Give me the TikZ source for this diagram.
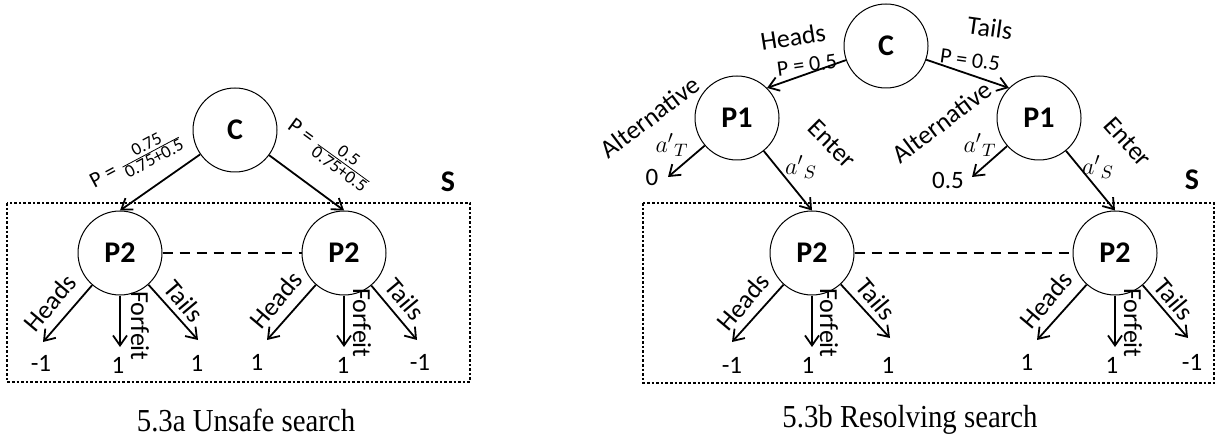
\documentclass[tikz,border=0pt]{standalone}
\usepackage{fontspec}
\setmainfont{Carlito}
\newfontfamily\capfont{Liberation Serif}
\usetikzlibrary{arrows.meta, positioning}

\newcommand{\pfrac}[2]{$\frac{\mbox{\fontsize{9}{10}\selectfont #1}}{\mbox{\fontsize{9}{10}\selectfont #2}}$}

\begin{document}
\begin{tikzpicture}[x=0.5pt, y=-0.5pt,
  player/.style={draw, circle, line width=0.5pt, minimum size=42pt, inner sep=0pt,
                 font=\fontsize{15}{17}\selectfont\bfseries},
  arr/.style={-{Straight Barb[length=5pt, width=7pt]}, line width=0.9pt},
  lbl/.style={font=\fontsize{13}{15}\selectfont, inner sep=0pt},
  biglbl/.style={font=\fontsize{13}{15}\selectfont, inner sep=0pt},
  prob/.style={font=\fontsize{11}{13}\selectfont, inner sep=0pt},
  val/.style={font=\fontsize{12.5}{14}\selectfont, inner sep=0pt},
  infoset/.style={dash pattern=on 5pt off 3.5pt, line width=0.75pt},
  subgame/.style={draw, line width=1.3pt, dash pattern=on 1.3pt off 1pt},
  caption/.style={font=\capfont\fontsize{16}{19}\selectfont, xscale=0.9}
]
\useasboundingbox (0,0) rectangle (1225,438);

% ---- 5.3a unsafe search
\draw[subgame] (7,203) rectangle (470,382);
\node[player] (chanceA) at (235,130) {C};
\node[player] (pA) at (120,253) {P2};
\node[player] (pB) at (344,253) {P2};
\node[font=\fontsize{15}{17}\selectfont\bfseries] (sA) at (448,182) {S};

\draw[arr] (chanceA) -- (pA.north);
\draw[arr] (chanceA) -- (pB.north);
\node[prob, rotate=28] (probA) at (136,159) {P = \pfrac{0.75}{0.75+0.5}};
\node[prob, rotate=-36] (probB) at (331,153) {P = \pfrac{0.5}{0.75+0.5}};
\draw[infoset] (pA) -- (pB);

\coordinate (aH) at (43,342);
\coordinate (aF) at (120,347);
\coordinate (aT) at (198,340);
\coordinate (bH) at (267,340);
\coordinate (bF) at (344,347);
\coordinate (bT) at (417,340);
\foreach \p/\q in {pA/a, pB/b}
  \foreach \e in {H, F, T}
    \draw[arr] (\p) -- (\q\e);

\node[lbl, rotate=50] (hdA) at (50,303) {Heads};
\node[lbl, rotate=-90] (ffA) at (140,326) {Forfeit};
\node[lbl, rotate=-50] (tlA) at (184,301) {Tails};
\node[lbl, rotate=50] (hdB) at (276,300) {Heads};
\node[lbl, rotate=-90] (ffB) at (362,323) {Forfeit};
\node[lbl, rotate=-50] (tlB) at (405,299) {Tails};

\node[val] (vA1) at (41,363) {-1};
\node[val] (vA2) at (118,365) {1};
\node[val] (vA3) at (197,363) {1};
\node[val] (vB1) at (257,362) {1};
\node[val] (vB2) at (343,365) {1};
\node[val] (vB3) at (420,362) {-1};

\node[caption] (capA) at (246,420) {5.3a Unsafe search};

% ---- 5.3b resolving search
\draw[subgame] (643,203) rectangle (1214,383);
\node[player] (chanceB) at (886,46) {C};
\node[player] (qA) at (737,118) {P1};
\node[player] (qB) at (1039,118) {P1};
\node[player] (pC) at (812,253) {P2};
\node[player] (pD) at (1115,253) {P2};
\node[font=\fontsize{15}{17}\selectfont\bfseries] (sB) at (1192,180) {S};

\draw[arr] (chanceB) -- (qA.north east);
\draw[arr] (chanceB) -- (qB.north west);
\node[biglbl, rotate=9] (hdTop) at (793,37) {Heads};
\node[prob, rotate=8] (prTopA) at (807,65) {P = 0.5};
\node[biglbl, rotate=-8] (tlTop) at (990,28) {Tails};
\node[prob, rotate=-8] (prTopB) at (970,60) {P = 0.5};

\coordinate (altA) at (668,177);
\coordinate (altB) at (972,177);
\draw[arr] (qA) -- (altA);
\draw[arr] (qB) -- (altB);
\draw[arr] (qA) -- (pC.north);
\draw[arr] (qB) -- (pD.north);
\node[biglbl, rotate=37] (alA) at (650,117) {Alternative};
\node[biglbl, rotate=37] (alB) at (942,122) {Alternative};
\node[biglbl] (atA) at (672,145) {$a'{}_T$};
\node[biglbl] (atB) at (980,145) {$a'{}_T$};
\node[biglbl, rotate=-45] (enA) at (832,144) {Enter};
\node[biglbl, rotate=-48] (enB) at (1128,142) {Enter};
\node[biglbl] (asA) at (801,167) {$a'{}_S$};
\node[biglbl] (asB) at (1098,167) {$a'{}_S$};
\node[val] (vAlt1) at (652,177) {0};
\node[val] (vAlt2) at (948,180) {0.5};
\draw[infoset] (pC) -- (pD);

\coordinate (cH) at (732,342);
\coordinate (cF) at (812,347);
\coordinate (cT) at (890,338);
\coordinate (dH) at (1037,340);
\coordinate (dF) at (1115,347);
\coordinate (dT) at (1188,338);
\foreach \p/\q in {pC/c, pD/d}
  \foreach \e in {H, F, T}
    \draw[arr] (\p) -- (\q\e);

\node[lbl, rotate=50] (hdC) at (743,302) {Heads};
\node[lbl, rotate=-90] (ffC) at (829,323) {Forfeit};
\node[lbl, rotate=-50] (tlC) at (876,299) {Tails};
\node[lbl, rotate=50] (hdD) at (1046,300) {Heads};
\node[lbl, rotate=-90] (ffD) at (1133,323) {Forfeit};
\node[lbl, rotate=-50] (tlD) at (1174,299) {Tails};

\node[val] (vC1) at (732,365) {-1};
\node[val] (vC2) at (808,365) {1};
\node[val] (vC3) at (888,365) {1};
\node[val] (vD1) at (1027,362) {1};
\node[val] (vD2) at (1112,365) {1};
\node[val] (vD3) at (1192,362) {-1};

\node[caption] (capB) at (910,420) {5.3b Resolving search};
\end{tikzpicture}
\end{document}
